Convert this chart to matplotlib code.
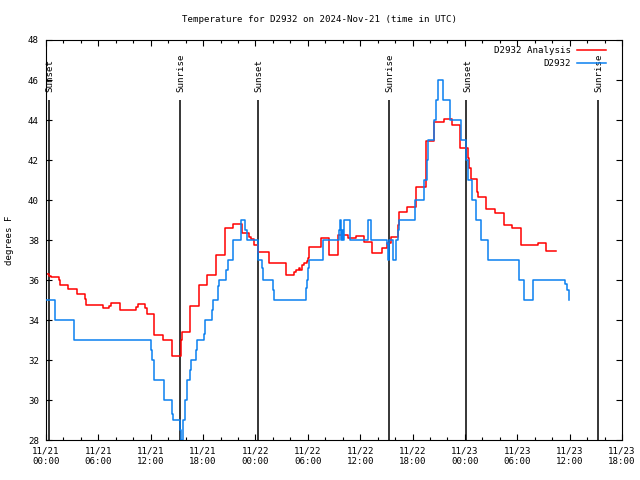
import matplotlib
matplotlib.use("Agg")
import matplotlib.pyplot as plt
from matplotlib.ticker import MultipleLocator

# time axis = hours since 11/21 00:00 UTC
x_ticks = [0, 6, 12, 18, 24, 30, 36, 42, 48, 54, 60, 66]
x_labels = ["11/21\n00:00", "11/21\n06:00", "11/21\n12:00", "11/21\n18:00",
            "11/22\n00:00", "11/22\n06:00", "11/22\n12:00", "11/22\n18:00",
            "11/23\n00:00", "11/23\n06:00", "11/23\n12:00", "11/23\n18:00"]

# sunrise / sunset markers
sun_times = [0.3, 15.3, 24.24, 39.25, 48.18, 63.2]
sun_names = ["Sunset", "Sunrise", "Sunset", "Sunrise", "Sunset", "Sunrise"]

# D2932 Analysis (red)
ana_t = [0.0, 0.38, 0.61, 1.49, 1.6, 2.52, 3.5, 4.47, 4.55, 6.49, 7.2, 7.44,
         8.47, 10.3, 10.5, 11.3, 11.6, 12.4, 13.44, 14.43, 15.46, 15.6, 16.5,
         17.56, 18.5, 19.47, 20.54, 21.45, 22.45, 23.3, 23.5, 23.86, 24.24,
         25.58, 27.5, 28.44, 28.65, 29.0, 29.1, 29.3, 29.6, 29.85, 30.0, 30.15,
         31.5, 32.45, 33.5, 34.66, 35.5, 36.46, 37.34, 38.5, 39.13, 39.5,
         40.35, 40.47, 41.4, 42.4, 43.5, 44.5, 45.55, 46.5, 47.45, 48.3, 48.5,
         48.7, 49.4, 49.55, 50.4, 51.5, 52.5, 53.45, 54.4, 56.4, 57.3, 58.4]
ana_v = [36.28, 36.2, 36.13, 36.0, 35.75, 35.53, 35.3, 35.05, 34.75, 34.58,
         34.7, 34.83, 34.5, 34.65, 34.78, 34.6, 34.3, 33.25, 33.0, 32.2, 33.0,
         33.4, 34.7, 35.73, 36.27, 37.25, 38.58, 38.8, 38.33, 38.15, 38.03,
         37.75, 37.42, 36.83, 36.25, 36.4, 36.5, 36.6, 36.5, 36.75, 36.85,
         36.97, 37.1, 37.67, 38.08, 37.25, 38.25, 38.08, 38.2, 37.92, 37.33,
         37.58, 37.83, 38.15, 38.75, 39.42, 39.67, 40.67, 42.95, 43.92, 44.03,
         43.75, 42.58, 42.1, 41.6, 41.03, 40.42, 40.17, 39.55, 39.37, 38.75,
         38.58, 37.75, 37.83, 37.47, 37.47]

# D2932 observations (blue)
obs_t = [0.0, 1.03, 3.2, 12.0, 12.2, 12.37, 13.5, 14.43, 14.58, 15.35, 15.45,
         15.65, 15.92, 16.1, 16.2, 16.5, 16.56, 17.2, 17.25, 18.05, 18.25,
         18.97, 19.1, 19.74, 19.85, 20.6, 20.8, 21.37, 22.3, 22.4, 22.75,
         22.98, 24.24, 24.7, 24.9, 25.96, 26.07, 29.8, 29.9, 29.97, 30.1,
         31.7, 31.75, 33.55, 33.67, 33.8, 33.9, 33.98, 34.17, 34.86, 36.9,
         37.2, 39.05, 39.15, 39.3, 39.8, 40.1, 40.3, 40.5, 42.3, 43.3, 43.6,
         43.8, 44.5, 44.65, 44.95, 45.5, 46.3, 47.5, 48.1, 48.4, 48.8, 49.3,
         49.8, 50.6, 54.2, 54.8, 55.85, 59.5, 59.7, 59.9, 59.95]
obs_v = [35, 34, 33, 32.5, 32, 31, 30, 29.3, 29, 28.5, 28, 29, 30, 30.5, 31,
         31.5, 32, 32.5, 33, 33.3, 34, 34.5, 35, 35.7, 36, 36.5, 37, 38, 38.5,
         39, 38.5, 38, 37, 36.6, 36, 35.5, 35, 35.6, 36, 36.6, 37, 37.8, 38,
         38.5, 39, 38, 38.5, 38, 39, 38, 39, 38, 37.8, 37, 38, 37, 38, 38.5,
         39, 40, 41, 42, 43, 44, 45, 46, 45, 44, 43, 42, 41, 40, 39, 38, 37,
         36, 35, 36, 35.8, 35.5, 35, 35]

mono = "DejaVu Sans Mono"
plt.rcParams["font.family"] = mono
plt.rcParams["font.size"] = 6.6

fig = plt.figure(figsize=(6.4, 4.8), dpi=100)
ax = fig.add_axes([46 / 640, 40 / 480, 576 / 640, 400 / 480])

# sunrise / sunset lines
ax.vlines(sun_times, 28, 45, colors="black", lw=1.1, zorder=1)
for t, name in zip(sun_times, sun_names):
    ax.text(t + 0.15, 45.4, name, rotation=90, ha="center", va="bottom")

ax.step(ana_t, ana_v, where="post", color="#ff0000", lw=1.1,
        label="D2932 Analysis", zorder=2)
ax.step(obs_t, obs_v, where="post", color="#0a80f0", lw=1.1,
        label="D2932", zorder=3)

ax.set_xlim(0, 66)
ax.set_ylim(28, 48)
ax.set_xticks(x_ticks)
ax.set_xticklabels(x_labels)
ax.xaxis.set_minor_locator(MultipleLocator(2))
ax.yaxis.set_major_locator(MultipleLocator(2))
ax.tick_params(which="both", direction="in", top=True, right=True,
               width=0.8, color="black")
ax.tick_params(which="major", length=4.5)
ax.tick_params(which="minor", length=2.5)
ax.tick_params(axis="x", pad=5)
ax.tick_params(axis="y", pad=5)
for s in ax.spines.values():
    s.set_linewidth(0.8)

ax.set_ylabel("degrees F", labelpad=10)
fig.text(0.5, 1 - 19 / 480, "Temperature for D2932 on 2024-Nov-21 (time in UTC)",
         ha="center", va="center")

ax.legend(loc="upper right", bbox_to_anchor=(1 - 10 / 576, 1.0),
          frameon=False, markerfirst=False, handlelength=3.2,
          handletextpad=0.6, labelspacing=0.45, borderaxespad=0.25)

fig.savefig("out.png", dpi=100)
